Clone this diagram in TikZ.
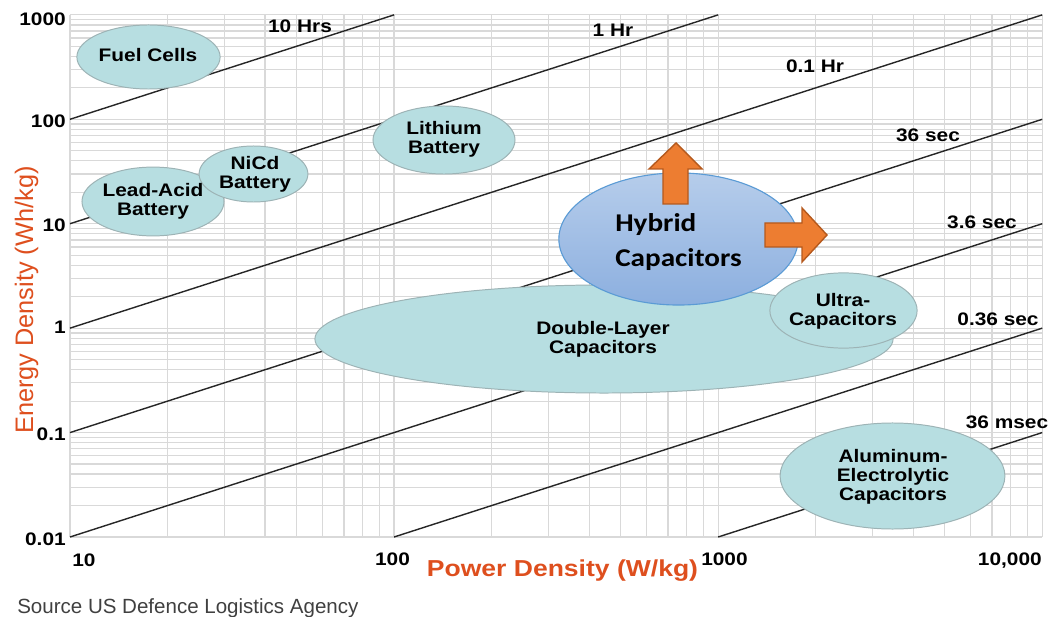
\documentclass[tikz,border=0pt]{standalone}
\usepackage{fontspec}
\setmainfont{Liberation Sans}
\newfontfamily\plotfont{Liberation Sans}[FakeStretch=1.15]
\newfontfamily\hybridfont{Carlito}[FakeStretch=1.14]
\usetikzlibrary{shapes.geometric}
\definecolor{blobfill}{HTML}{B7DEE1}
\definecolor{blobline}{HTML}{9DB3B5}
\definecolor{titlered}{HTML}{DE4F1E}
\definecolor{hybridtop}{HTML}{B6CDEB}
\definecolor{hybridbot}{HTML}{8CAFDF}
\definecolor{hybridline}{HTML}{5B9BD5}
\definecolor{arrowfill}{HTML}{ED7D31}
\definecolor{arrowline}{HTML}{B5591D}
\tikzset{
  gridline/.style={draw=black!15, line width=0.9pt},
  timeline/.style={draw=black!85, line width=1pt},
  blob/.style={ellipse, draw=blobline, fill=blobfill, line width=0.7pt, inner sep=0pt},
  bloblabel/.style={align=center, inner sep=0pt, font=\plotfont\bfseries\fontsize{12.9}{13.4}\selectfont},
  ticklabel/.style={inner sep=0pt, font=\plotfont\bfseries\fontsize{12.9}{13.9}\selectfont},
  blockarrow/.style={fill=arrowfill, draw=arrowline, line width=1pt, line join=miter}
}

\begin{document}
\begin{tikzpicture}[x=0.025cm, y=-0.025cm]
\useasboundingbox (0,0) rectangle (1061,617);

\begin{scope}[shift={(70,537)}, x=8.1cm, y=2.61cm]
  \foreach \d in {0,1,2}
    \foreach \k in {2,...,9}
      \draw[gridline] ({\d+log10(\k)},0) -- ({\d+log10(\k)},5);
  \foreach \d in {0,...,3}
    \draw[gridline] (\d,0) -- (\d,5);
  \foreach \d in {0,...,4}
    \foreach \k in {2,...,9}
      \draw[gridline] (0,{\d+log10(\k)}) -- (3,{\d+log10(\k)});
  \foreach \d in {0,...,5}
    \draw[gridline] (0,\d) -- (3,\d);

  \draw[timeline] (0,4) -- (1,5);
  \draw[timeline] (0,3) -- (2,5);
  \draw[timeline] (0,2) -- (3,5);
  \draw[timeline] (0,1) -- (3,4);
  \draw[timeline] (0,0) -- (3,3);
  \draw[timeline] (1,0) -- (3,2);
  \draw[timeline] (2,0) -- (3,1);
\end{scope}

\begin{scope}[every node/.style={blob}]
  \node[minimum width=3.58cm, minimum height=1.6cm]   (fuel)    at (148.5,57)  {};
  \node[minimum width=3.55cm, minimum height=1.72cm]  (lead)    at (153,201.5) {};
  \node[minimum width=2.72cm, minimum height=1.4cm]   (nicd)    at (253.5,174) {};
  \node[minimum width=3.55cm, minimum height=1.7cm]   (lithium) at (444,140)   {};
  \node[minimum width=14.45cm, minimum height=2.7cm]  (double)  at (604,339)   {};
  \node[minimum width=3.68cm, minimum height=1.88cm]  (ultra)   at (843.5,310.5) {};
  \node[minimum width=5.62cm, minimum height=2.65cm]  (alu)     at (892.5,476) {};
  \node[minimum width=5.98cm, minimum height=3.3cm, draw=hybridline, line width=0.8pt,
        top color=hybridtop, bottom color=hybridbot] (hybrid) at (678.5,239) {};
\end{scope}

\draw[blockarrow] (663,204) -- (663,169) -- (649,169) -- (676,143) -- (702,169)
  -- (688,169) -- (688,204) -- cycle;
\draw[blockarrow] (765,223) -- (802,223) -- (802,208) -- (827,235) -- (802,262)
  -- (802,247) -- (765,247) -- cycle;

\begin{scope}[every node/.style={bloblabel}]
  \node (fueltext)    at (148,55)  {Fuel Cells};
  \node (leadtext)    at (153,201) {Lead-Acid\\Battery};
  \node (nicdtext)    at (255,174) {NiCd\\Battery};
  \node (lithiumtext) at (444,139) {Lithium\\Battery};
  \node (doubletext)  at (603,339) {Double-Layer\\Capacitors};
  \node (ultratext)   at (843,311) {Ultra-\\Capacitors};
  \node (alutext)     at (893,477) {Aluminum-\\Electrolytic\\Capacitors};
\end{scope}
\node[align=left, inner sep=0pt, font=\hybridfont\bfseries\fontsize{18.2}{24.9}\selectfont]
  (hybridtext) at (678.5,242) {Hybrid\\Capacitors};

\begin{scope}[every node/.style={ticklabel, anchor=base}]
  \node (hrs10)  at (300,33)  {10 Hrs};
  \node (hr1)    at (613,37)  {1 Hr};
  \node (hr01)   at (815,73)  {0.1 Hr};
  \node (sec36)  at (928,142) {36 sec};
  \node (sec3)   at (982,229) {3.6 sec};
  \node (sec03)  at (998,325) {0.36 sec};
  \node (msec36) at (1007,428) {36 msec};
\end{scope}

\begin{scope}[every node/.style={ticklabel, anchor=base east}]
  \node (y1000) at (66,26)  {1000};
  \node (y100)  at (66,128) {100};
  \node (y10)   at (66,232) {10};
  \node (y1)    at (66,333) {1};
  \node (y01)   at (66,440) {0.1};
  \node (y001)  at (66,545) {0.01};
\end{scope}

\begin{scope}[every node/.style={ticklabel, anchor=base}]
  \node[anchor=base west] (x10) at (72,566) {10};
  \node (x100)   at (392.5,565) {100};
  \node (x1000)  at (724.5,565) {1000};
  \node[anchor=base east] (x10000) at (1042,565) {10,000};
\end{scope}

\node[rotate=90, anchor=base, inner sep=0pt, text=titlered, font=\fontsize{18}{20}\selectfont]
  (ytitle) at (33,300) {Energy Density (Wh/kg)};
\node[anchor=base, inner sep=0pt, text=titlered, font=\plotfont\bfseries\fontsize{16.4}{18}\selectfont]
  (xtitle) at (562.5,576) {Power Density (W/kg)};
\node[anchor=base west, inner sep=0pt, text=black!75, font=\fontsize{14.6}{16}\selectfont]
  (source) at (17,613) {Source US Defence Logistics Agency};

\end{tikzpicture}
\end{document}
